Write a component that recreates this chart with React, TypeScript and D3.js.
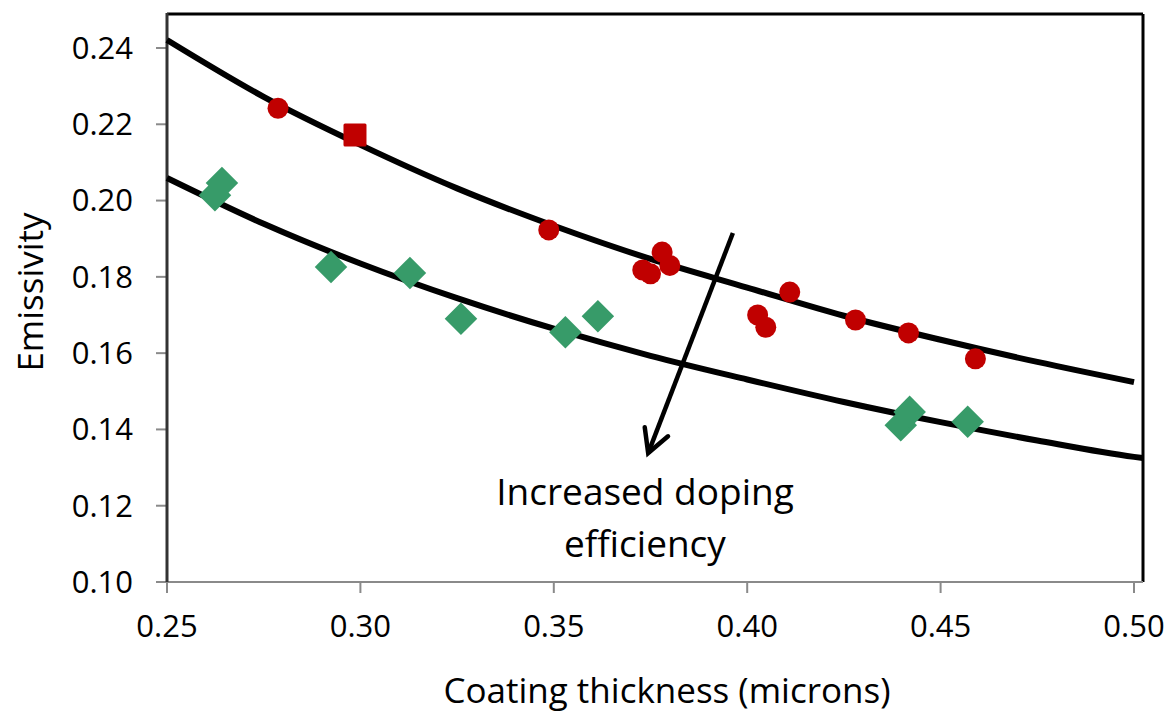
import React from "react";
import * as d3 from "d3";

const xTicks = [0.25, 0.3, 0.35, 0.4, 0.45, 0.5];
const yTicks = [0.1, 0.12, 0.14, 0.16, 0.18, 0.2, 0.22, 0.24];

const redX = [0.2787, 0.3487, 0.373, 0.375, 0.378, 0.380, 0.4027, 0.4048, 0.411, 0.428, 0.4417, 0.459];
const redY = [0.2242, 0.1923, 0.1818, 0.1808, 0.1865, 0.1830, 0.1700, 0.1668, 0.1760, 0.1687, 0.1653, 0.1585];

const squareX = [0.2986];
const squareY = [0.2172];

const greenX = [0.2624, 0.2642, 0.2924, 0.3128, 0.326, 0.353, 0.3614, 0.4397, 0.442, 0.457];
const greenY = [0.2014, 0.2046, 0.1826, 0.181, 0.169, 0.1655, 0.1697, 0.1411, 0.1446, 0.142];

const upperFitX = [0.25, 0.275, 0.3, 0.325, 0.35, 0.375, 0.4, 0.425, 0.45, 0.475, 0.5];
const upperFitY = [0.2421, 0.2272, 0.2146, 0.2032, 0.1934, 0.1847, 0.1772, 0.1698, 0.1635, 0.1577, 0.1524];

const lowerFitX = [0.25, 0.275, 0.3, 0.325, 0.35, 0.375, 0.4, 0.425, 0.45, 0.475, 0.5, 0.5023];
const lowerFitY = [0.2059, 0.1939, 0.1835, 0.1744, 0.1664, 0.1593, 0.1531, 0.1472, 0.1419, 0.1371, 0.1328, 0.1325];

const annotationLines = ["Increased doping", "efficiency"];
const xTitle = "Coating thickness (microns)";
const yTitle = "Emissivity";

const FONT = "'Open Sans', 'Noto Sans', sans-serif";
const RED = "#C00000";
const GREEN = "#379B69";

export default function App() {
  const x = d3.scaleLinear().domain([0.25, 0.5]).range([167, 1134]);
  const y = d3.scaleLinear().domain([0.1, 0.24]).range([582, 48]);

  const line = d3
    .line<[number, number]>()
    .x((d) => x(d[0]))
    .y((d) => y(d[1]))
    .curve(d3.curveMonotoneX);

  const upper = upperFitX.map((v, i) => [v, upperFitY[i]] as [number, number]);
  const lower = lowerFitX.map((v, i) => [v, lowerFitY[i]] as [number, number]);

  const plotLeft = 167;
  const plotRight = 1143;
  const plotTop = 14;
  const plotBottom = 582;

  // arrow (annotation, in data space)
  const arrowStart: [number, number] = [0.3963, 0.1915];
  const arrowEnd: [number, number] = [0.3744, 0.1338];
  const ax1 = x(arrowStart[0]);
  const ay1 = y(arrowStart[1]);
  const ax2 = x(arrowEnd[0]);
  const ay2 = y(arrowEnd[1]);
  const ang = Math.atan2(ay2 - ay1, ax2 - ax1);
  const headLen = 26;
  const spread = 0.5;
  const h1 = [ax2 - headLen * Math.cos(ang - spread), ay2 - headLen * Math.sin(ang - spread)];
  const h2 = [ax2 - headLen * Math.cos(ang + spread), ay2 - headLen * Math.sin(ang + spread)];

  return (
    <svg
      width={1171}
      height={721}
      style={{ position: "absolute", left: 0, top: 0, background: "#fff" }}
      fontFamily={FONT}
    >
      <rect x={0} y={0} width={1171} height={721} fill="#fff" />

      {/* frame: top and right borders */}
      <line x1={plotLeft} y1={plotTop} x2={plotRight} y2={plotTop} stroke="#000" strokeWidth={3} />
      <line x1={plotRight} y1={plotTop} x2={plotRight} y2={plotBottom} stroke="#000" strokeWidth={3} />

      {/* bottom axis */}
      <line x1={plotLeft} y1={plotBottom} x2={plotRight} y2={plotBottom} stroke="#8a8a8a" strokeWidth={2} />
      {xTicks.map((t) => (
        <g key={"xt" + t}>
          <line x1={x(t)} x2={x(t)} y1={plotBottom} y2={plotBottom + 11} stroke="#8a8a8a" strokeWidth={2} />
          <text x={x(t)} y={637} textAnchor="middle" fontSize={31} fill="#000">
            {d3.format(".2f")(t)}
          </text>
        </g>
      ))}

      {/* left axis */}
      {yTicks.map((t) => (
        <g key={"yt" + t}>
          <line x1={plotLeft - 11} x2={plotLeft} y1={y(t)} y2={y(t)} stroke="#8a8a8a" strokeWidth={2} />
          <text x={133} y={y(t)} dy="0.35em" textAnchor="end" fontSize={31} fill="#000">
            {d3.format(".2f")(t)}
          </text>
        </g>
      ))}
      <line x1={plotLeft} y1={plotTop - 1} x2={plotLeft} y2={plotBottom} stroke="#333" strokeWidth={3} />

      {/* fit curves */}
      <path d={line(upper) || ""} fill="none" stroke="#000" strokeWidth={6} />
      <path d={line(lower) || ""} fill="none" stroke="#000" strokeWidth={6} />

      {/* green diamonds */}
      {greenX.map((v, i) => (
        <rect
          key={"g" + i}
          x={-11.5}
          y={-11.5}
          width={23}
          height={23}
          fill={GREEN}
          transform={`translate(${x(v)},${y(greenY[i])}) rotate(45)`}
        />
      ))}

      {/* red circles */}
      {redX.map((v, i) => (
        <circle key={"r" + i} cx={x(v)} cy={y(redY[i])} r={10.5} fill={RED} />
      ))}

      {/* red square */}
      {squareX.map((v, i) => (
        <rect key={"s" + i} x={x(v) - 11.5} y={y(squareY[i]) - 11.5} width={23} height={23} fill={RED} rx={1.5} />
      ))}

      {/* arrow */}
      <line x1={ax1} y1={ay1} x2={ax2} y2={ay2} stroke="#000" strokeWidth={4.5} />
      <polyline
        points={`${h1[0]},${h1[1]} ${ax2},${ay2} ${h2[0]},${h2[1]}`}
        fill="none"
        stroke="#000"
        strokeWidth={4.5}
        strokeLinecap="round"
      />

      {/* annotation */}
      {annotationLines.map((s, i) => (
        <text key={"a" + i} x={645} y={505 + i * 52} textAnchor="middle" fontSize={37} fill="#000">
          {s}
        </text>
      ))}

      {/* axis titles */}
      <text x={667} y={703} textAnchor="middle" fontSize={35} fill="#000">
        {xTitle}
      </text>
      <text
        transform={`translate(43,292) rotate(-90)`}
        textAnchor="middle"
        fontSize={35}
        fill="#000"
      >
        {yTitle}
      </text>
    </svg>
  );
}
